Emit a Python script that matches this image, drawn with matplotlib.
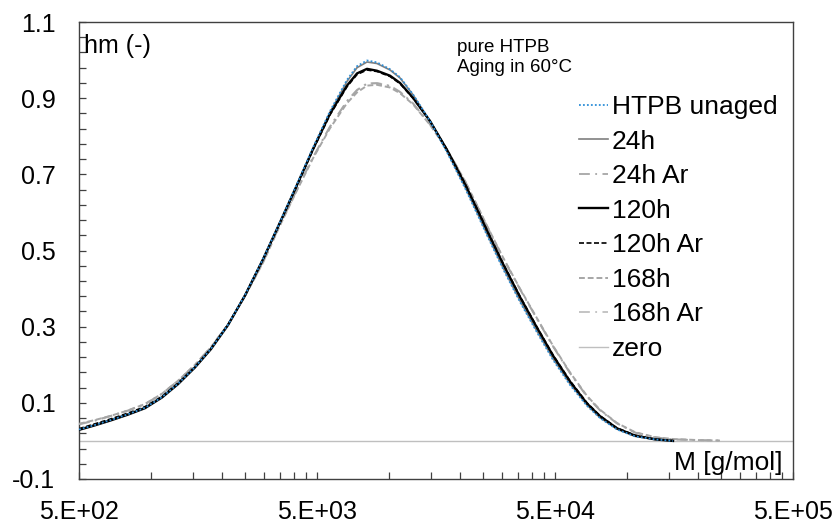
import matplotlib
matplotlib.use("Agg")
import matplotlib.pyplot as plt
import numpy as np
from matplotlib.ticker import FixedLocator, FixedFormatter, NullFormatter

plt.rcParams['font.family'] = ['Liberation Sans', 'DejaVu Sans']
plt.rcParams['axes.unicode_minus'] = False

# Molar mass grid [g/mol]
M = [500, 584, 681, 803, 947, 1116, 1303, 1536, 1792, 2113, 2491, 2966, 3497,
     4120, 4809, 5670, 6683, 7363, 8111, 8934, 10133, 11163, 12656, 14922,
     17588, 20935, 24200, 25897, 30230, 35630, 42015, 49040, 57800, 68170,
     77290, 91110, 108430, 131600, 156640, 203300, 246600]
nan = float('nan')

htpb_unaged = [0.030, 0.042, 0.055, 0.070, 0.087, 0.115, 0.150, 0.194, 0.242, 0.305,
               0.383, 0.478, 0.575, 0.675, 0.770, 0.866, 0.948, 0.984, 0.999, 0.994,
               0.976, 0.955, 0.910, 0.840, 0.758, 0.664, 0.580, 0.540, 0.452, 0.365,
               0.285, 0.213, 0.147, 0.092, 0.060, 0.030, 0.012, 0.004, 0.000, nan, nan]
h24 = [0.031, 0.043, 0.056, 0.071, 0.088, 0.116, 0.151, 0.195, 0.243, 0.305,
       0.382, 0.477, 0.574, 0.673, 0.768, 0.863, 0.944, 0.980, 0.995, 0.991,
       0.974, 0.953, 0.909, 0.840, 0.760, 0.667, 0.583, 0.543, 0.455, 0.368,
       0.288, 0.216, 0.150, 0.094, 0.061, 0.031, 0.012, 0.004, 0.000, nan, nan]
h24_ar = [0.044, 0.054, 0.066, 0.080, 0.097, 0.124, 0.158, 0.200, 0.247, 0.306,
          0.380, 0.469, 0.568, 0.660, 0.744, 0.825, 0.892, 0.921, 0.938, 0.939,
          0.932, 0.916, 0.886, 0.831, 0.765, 0.682, 0.602, 0.563, 0.480, 0.398,
          0.320, 0.248, 0.178, 0.116, 0.080, 0.046, 0.022, 0.009, 0.004, 0.002, 0.001]
h120 = [0.029, 0.041, 0.054, 0.069, 0.086, 0.114, 0.149, 0.193, 0.241, 0.304,
        0.382, 0.477, 0.574, 0.672, 0.766, 0.859, 0.933, 0.965, 0.977, 0.972,
        0.959, 0.940, 0.901, 0.840, 0.764, 0.674, 0.592, 0.552, 0.465, 0.378,
        0.297, 0.224, 0.156, 0.098, 0.065, 0.033, 0.014, 0.004, 0.000, nan, nan]
h120_ar = [0.032, 0.045, 0.058, 0.073, 0.090, 0.117, 0.152, 0.195, 0.243, 0.305,
           0.382, 0.476, 0.573, 0.670, 0.764, 0.856, 0.930, 0.962, 0.974, 0.970,
           0.957, 0.938, 0.900, 0.840, 0.765, 0.676, 0.594, 0.554, 0.467, 0.380,
           0.299, 0.226, 0.158, 0.100, 0.066, 0.034, 0.015, 0.005, 0.001, nan, nan]
h168 = [0.045, 0.055, 0.066, 0.080, 0.097, 0.124, 0.158, 0.200, 0.246, 0.306,
        0.380, 0.468, 0.566, 0.658, 0.742, 0.821, 0.887, 0.915, 0.933, 0.935,
        0.928, 0.913, 0.884, 0.830, 0.765, 0.682, 0.603, 0.565, 0.482, 0.400,
        0.322, 0.250, 0.180, 0.118, 0.082, 0.047, 0.023, 0.010, 0.005, 0.002, 0.001]
h168_ar = [0.043, 0.053, 0.065, 0.079, 0.096, 0.123, 0.157, 0.199, 0.245, 0.305,
           0.380, 0.470, 0.569, 0.661, 0.745, 0.826, 0.893, 0.922, 0.939, 0.940,
           0.933, 0.917, 0.887, 0.832, 0.766, 0.683, 0.602, 0.564, 0.481, 0.399,
           0.321, 0.249, 0.179, 0.117, 0.081, 0.046, 0.022, 0.009, 0.004, 0.002, 0.001]
zero_x = [500, 500000]
zero_y = [0, 0]

labels = ['HTPB unaged', '24h', '24h Ar', '120h', '120h Ar', '168h', '168h Ar', 'zero']
xticks = [500, 5000, 50000, 500000]
xticklabels = ['5.E+02', '5.E+03', '5.E+04', '5.E+05']
yticks = [-0.1, 0.1, 0.3, 0.5, 0.7, 0.9, 1.1]
yticklabels = ['-0.1', '0.1', '0.3', '0.5', '0.7', '0.9', '1.1']

W, H = 838, 524
fig = plt.figure(figsize=(W / 100, H / 100), dpi=100)
ax = fig.add_axes([79 / W, 1 - 479 / H, (793 - 79) / W, (479 - 22) / H])

ax.plot(M, htpb_unaged, color='#2E8FD8', lw=1.3, ls=(0, (1, 1.2)), label=labels[0], zorder=9)
ax.plot(M, h24, color='#7F7F7F', lw=1.2, ls='-', label=labels[1], zorder=4)
ax.plot(M, h24_ar, color='#A6A6A6', lw=1.3, ls=(0, (6, 3, 1, 3)), label=labels[2], zorder=3)
ax.plot(M, h120, color='#000000', lw=1.7, ls='-', label=labels[3], zorder=7)
ax.plot(M, h120_ar, color='#000000', lw=1.2, ls=(0, (3, 1.5)), label=labels[4], zorder=6)
ax.plot(M, h168, color='#A6A6A6', lw=1.4, ls=(0, (3, 1.5)), label=labels[5], zorder=5)
ax.plot(M, h168_ar, color='#BFBFBF', lw=1.3, ls=(0, (6, 3, 1, 3)), label=labels[6], zorder=2)
ax.plot(zero_x, zero_y, color='#BFBFBF', lw=1.0, ls='-', label=labels[7], zorder=1)

ax.set_xscale('log')
ax.set_xlim(500, 500000)
ax.set_ylim(-0.1, 1.1)

ax.xaxis.set_major_locator(FixedLocator(xticks))
ax.xaxis.set_major_formatter(FixedFormatter(xticklabels))
minor_x = [500 * k * 10 ** n for n in range(3) for k in range(2, 10)]
ax.xaxis.set_minor_locator(FixedLocator(minor_x))
ax.xaxis.set_minor_formatter(NullFormatter())
ax.yaxis.set_major_locator(FixedLocator(yticks))
ax.yaxis.set_major_formatter(FixedFormatter(yticklabels))
ax.yaxis.set_minor_locator(FixedLocator(list(np.arange(-0.1, 1.1001, 0.04))))

ax.tick_params(which='both', direction='in', length=5, width=0.9, color='#404040')
ax.tick_params(axis='x', which='major', labelsize=18, pad=15)
ax.tick_params(axis='y', which='major', labelsize=18, pad=17)
for s in ax.spines.values():
    s.set_color('#404040')
    s.set_linewidth(1.0)

fig.text(84 / W, 1 - 53 / H, 'hm (-)', fontsize=18, ha='left', va='baseline')
fig.text(782 / W, 1 - 470 / H, 'M [g/mol]', fontsize=19, ha='right', va='baseline')
fig.text(457 / W, 1 - 48 / H, 'pure HTPB', fontsize=13.5, ha='left', va='center')
fig.text(457 / W, 1 - 68 / H, 'Aging in 60°C', fontsize=13.5, ha='left', va='center')

leg = ax.legend(loc='upper left', bbox_to_anchor=(579 / W, 1 - 95 / H),
                bbox_transform=fig.transFigure, frameon=False, fontsize=19,
                handlelength=1.1, handletextpad=0.15, labelspacing=0.40,
                borderpad=0, borderaxespad=0)

fig.savefig('out.png', dpi=100)
